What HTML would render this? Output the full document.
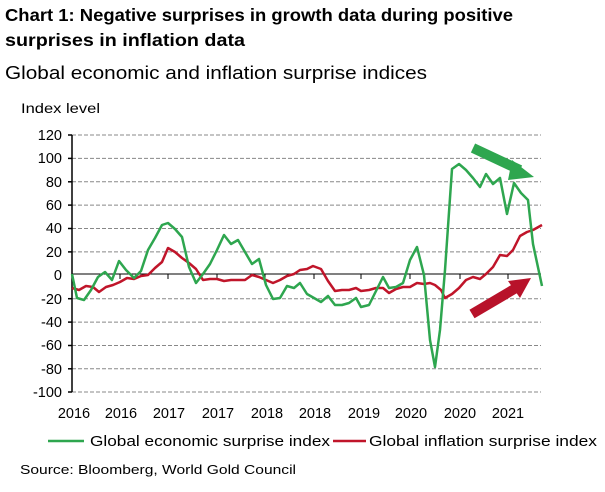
<!DOCTYPE html>
<html><head><style>
body{margin:0;background:#fff;width:605px;height:487px;overflow:hidden;font-family:"Liberation Sans",sans-serif}
</style></head><body>
<svg width="605" height="487" xmlns="http://www.w3.org/2000/svg" font-family="Liberation Sans, sans-serif">
<text x="5" y="21" font-size="17.5" font-weight="bold" fill="#000" textLength="508" lengthAdjust="spacingAndGlyphs">Chart 1: Negative surprises in growth data during positive</text>
<text x="5" y="46" font-size="17.5" font-weight="bold" fill="#000" textLength="240" lengthAdjust="spacingAndGlyphs">surprises in inflation data</text>
<text x="5" y="79" font-size="18" fill="#000" textLength="422" lengthAdjust="spacingAndGlyphs">Global economic and inflation surprise indices</text>
<text x="21" y="113" font-size="14" fill="#000" textLength="79" lengthAdjust="spacingAndGlyphs">Index level</text>
<g stroke="#888" stroke-dasharray="4,2" stroke-width="1">
<line x1="72" x2="541" y1="135" y2="135"/><line x1="72" x2="541" y1="158.4" y2="158.4"/><line x1="72" x2="541" y1="181.8" y2="181.8"/><line x1="72" x2="541" y1="205.1" y2="205.1"/><line x1="72" x2="541" y1="228.5" y2="228.5"/><line x1="72" x2="541" y1="251.9" y2="251.9"/><line x1="72" x2="541" y1="298.7" y2="298.7"/><line x1="72" x2="541" y1="322.1" y2="322.1"/><line x1="72" x2="541" y1="345.5" y2="345.5"/><line x1="72" x2="541" y1="368.8" y2="368.8"/><line x1="72" x2="541" y1="392" y2="392"/>
</g>
<g font-size="14.5" fill="#000" text-anchor="end">
<text x="62" y="140">120</text><text x="62" y="163">100</text><text x="62" y="187">80</text><text x="62" y="210">60</text><text x="62" y="233">40</text><text x="62" y="257">20</text><text x="62" y="280">0</text><text x="62" y="304">-20</text><text x="62" y="327">-40</text><text x="62" y="350">-60</text><text x="62" y="374">-80</text><text x="62" y="397">-100</text>
</g>
<g stroke="#000" stroke-width="1.5">
<line x1="72" y1="135" x2="72" y2="392"/>
<line x1="68" x2="72" y1="135" y2="135"/><line x1="68" x2="72" y1="158.4" y2="158.4"/><line x1="68" x2="72" y1="181.8" y2="181.8"/><line x1="68" x2="72" y1="205.1" y2="205.1"/><line x1="68" x2="72" y1="228.5" y2="228.5"/><line x1="68" x2="72" y1="251.9" y2="251.9"/><line x1="68" x2="72" y1="298.7" y2="298.7"/><line x1="68" x2="72" y1="322.1" y2="322.1"/><line x1="68" x2="72" y1="345.5" y2="345.5"/><line x1="68" x2="72" y1="368.8" y2="368.8"/><line x1="68" x2="72" y1="392" y2="392"/>
</g>
<g stroke="#000" stroke-width="1">
<line x1="72" x2="541" y1="274" y2="274"/>
<line x1="120" x2="120" y1="274" y2="279"/><line x1="168" x2="168" y1="274" y2="279"/><line x1="217" x2="217" y1="274" y2="279"/><line x1="265" x2="265" y1="274" y2="279"/><line x1="314" x2="314" y1="274" y2="279"/><line x1="361" x2="361" y1="274" y2="279"/><line x1="410" x2="410" y1="274" y2="279"/><line x1="460" x2="460" y1="274" y2="279"/><line x1="508" x2="508" y1="274" y2="279"/>
</g>
<g font-size="14.5" fill="#000" text-anchor="middle">
<text x="74" y="418">2016</text><text x="121" y="418">2016</text><text x="169" y="418">2017</text><text x="218" y="418">2017</text><text x="267" y="418">2018</text><text x="315" y="418">2018</text><text x="364" y="418">2019</text><text x="411" y="418">2020</text><text x="460" y="418">2020</text><text x="508" y="418">2021</text>
</g>
<polyline fill="none" stroke="#c0152a" stroke-width="2.5" stroke-linejoin="round" points="72,288 79,290 86,286 93,287 99,292 106,287 113,285 120,282 127,278 134,279 141,276 148,275 155,268 162,262 168,248 175,252 182,258 189,263 196,269 203,280 210,279 217,279 224,281 231,280 245,280 252,275 259,277 266,280 273,283 280,280 287,276 294,274 300,270 307,269 313,266 321,269 328,281 335,291 342,290 349,290 356,288 361,291 369,290 376,288 383,288 389,293 396,289 403,287 410,287 417,283 424,284 430,283 435,285 441,290 445,298 452,294 459,288 466,280 473,277 480,279 486,274 493,267 500,255 507,256 513,250 520,236 527,232 533,230 542,225"/>
<polyline fill="none" stroke="#2ea64f" stroke-width="2.5" stroke-linejoin="round" points="72,274 77,298 84,300 91,290 98,277 105,272 112,280 119,261 126,270 134,278 141,271 148,250 155,238 162,225 168,223 175,229 182,237 189,267 196,283 203,274 210,264 217,250 224,235 231,244 238,240 245,252 252,264 259,259 266,285 273,299 280,298 287,286 294,288 300,283 307,294 321,302 328,296 335,305 342,305 349,303 356,298 361,307 369,305 383,277 389,288 396,287 403,283 410,260 417,247 424,275 430,340 435,367 440,330 445,270 452,169 459,164 466,170 473,178 480,187 486,174 493,184 500,178 507,214 514,183 521,193 528,200 533,244 542,286"/>
<line x1="473" y1="148" x2="520" y2="170" stroke="#2ea64f" stroke-width="10"/>
<polygon points="512,160 534,177 508,180" fill="#2ea64f"/>
<line x1="472" y1="314" x2="516" y2="288" stroke="#b8122a" stroke-width="10"/>
<polygon points="508,281 531,278 520,298" fill="#b8122a"/>
<line x1="48" x2="84" y1="441" y2="441" stroke="#2ea64f" stroke-width="2.5"/>
<text x="90" y="446" font-size="15" fill="#000" textLength="240" lengthAdjust="spacingAndGlyphs">Global economic surprise index</text>
<line x1="333" x2="366" y1="441" y2="441" stroke="#c0152a" stroke-width="2.5"/>
<text x="369" y="446" font-size="15" fill="#000" textLength="228" lengthAdjust="spacingAndGlyphs">Global inflation surprise index</text>
<text x="20" y="474" font-size="13" fill="#000" textLength="276" lengthAdjust="spacingAndGlyphs">Source: Bloomberg, World Gold Council</text>
</svg>
</body></html>
